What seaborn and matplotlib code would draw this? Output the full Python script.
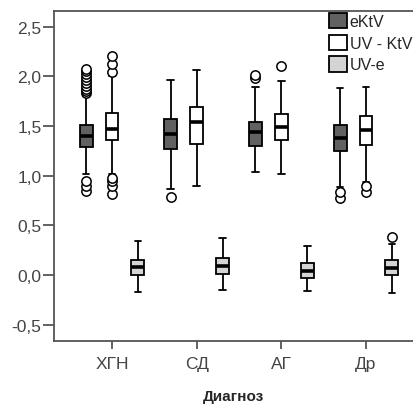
import numpy as np
import pandas as pd
import seaborn as sns
import matplotlib.pyplot as plt

# categories
diagnoses = ['ХГН', 'СД', 'АГ', 'Др']
groups = ['eKtV', 'UV - KtV', 'UV-e']

# box summaries: lower whisker, Q1, median, Q3, upper whisker
ektv_lo = [1.02, 0.87, 1.04, 0.89]
ektv_q1 = [1.29, 1.27, 1.30, 1.245]
ektv_med = [1.40, 1.42, 1.44, 1.38]
ektv_q3 = [1.51, 1.57, 1.54, 1.515]
ektv_hi = [1.80, 1.96, 1.89, 1.88]

uvk_lo = [1.02, 0.90, 1.02, 0.94]
uvk_q1 = [1.36, 1.32, 1.36, 1.31]
uvk_med = [1.47, 1.54, 1.49, 1.46]
uvk_q3 = [1.63, 1.69, 1.62, 1.60]
uvk_hi = [2.00, 2.06, 1.95, 1.89]

uve_lo = [-0.17, -0.15, -0.16, -0.18]
uve_q1 = [0.00, 0.01, -0.03, 0.00]
uve_med = [0.08, 0.09, 0.04, 0.07]
uve_q3 = [0.155, 0.17, 0.12, 0.155]
uve_hi = [0.34, 0.37, 0.29, 0.31]

# outliers (circles), one list per diagnosis
ektv_out = [[0.85, 0.90, 0.95, 1.83, 1.85, 1.87, 1.90, 1.93, 1.96, 1.99, 2.02, 2.05, 2.07],
            [0.79], [1.98, 2.01], [0.78, 0.84]]
uvk_out = [[0.82, 0.90, 0.95, 0.98, 2.04, 2.13, 2.21], [], [2.10], [0.84, 0.90]]
uve_out = [[], [], [], [0.38]]

ytick_vals = [-0.5, 0.0, 0.5, 1.0, 1.5, 2.0, 2.5]
ytick_labels = ['-0,5', '0,0', '0,5', '1,0', '1,5', '2,0', '2,5']

colors = {'eKtV': '#616161', 'UV - KtV': '#ffffff', 'UV-e': '#d4d4d4'}

# %%
rows = []
box_data = {
    'eKtV': [ektv_lo, ektv_q1, ektv_med, ektv_q3, ektv_hi],
    'UV - KtV': [uvk_lo, uvk_q1, uvk_med, uvk_q3, uvk_hi],
    'UV-e': [uve_lo, uve_q1, uve_med, uve_q3, uve_hi],
}
for g in groups:
    for i, d in enumerate(diagnoses):
        for stat in box_data[g]:
            rows.append([d, g, stat[i]])
df = pd.DataFrame(rows, columns=['Диагноз', 'group', 'value'])

sns.set_style('ticks')
plt.rcParams['font.family'] = ['Liberation Sans', 'DejaVu Sans']

fig = plt.figure(figsize=(4.14, 4.06), dpi=100)
ax = fig.add_axes([54 / 414, 1 - 342 / 406, 1 - 54 / 414, 330 / 406])

BOX_W = 0.92
sns.boxplot(data=df, x='Диагноз', y='value', hue='group',
            order=diagnoses, hue_order=groups, palette=colors,
            width=BOX_W, gap=0.5, whis=np.inf, saturation=1,
            linecolor='black', linewidth=1.3,
            medianprops={'linewidth': 2.6}, ax=ax)

# outliers drawn at the dodged positions of each box
out_data = {'eKtV': ektv_out, 'UV - KtV': uvk_out, 'UV-e': uve_out}
for j, g in enumerate(groups):
    for i, vals in enumerate(out_data[g]):
        if vals:
            xs = np.full(len(vals), i + (j - 1) * BOX_W / 3)
            ax.scatter(xs, vals, s=45, facecolor='white', edgecolor='black',
                       linewidth=1.1, zorder=5)

ax.set_xlim(-0.685, 3.567)
ax.set_ylim(-0.665, 2.659)
ax.set_yticks(ytick_vals)
ax.set_yticklabels(ytick_labels)
ax.set_ylabel('')
ax.set_xlabel('Диагноз', fontsize=11, fontweight='bold', labelpad=13)

ax.tick_params(axis='y', length=8, width=1.3, pad=1, labelsize=12.5,
               colors='#555555', labelcolor='#444444')
ax.tick_params(axis='x', length=6, width=1.3, pad=5, labelsize=12.5,
               colors='#555555', labelcolor='#444444')
ax.spines['right'].set_visible(False)
for s in ['left', 'top', 'bottom']:
    ax.spines[s].set_color('#555555')
    ax.spines[s].set_linewidth(1.3)

sns.move_legend(ax, 'upper left', bbox_to_anchor=(329 / 414, 1 - 14 / 406),
                bbox_transform=fig.transFigure, frameon=False, title=None,
                fontsize=11.5, handlelength=1.1, handleheight=1.1,
                handletextpad=0.2, labelspacing=0.35, borderpad=0,
                borderaxespad=0)

fig.savefig('out.png', dpi=100)
